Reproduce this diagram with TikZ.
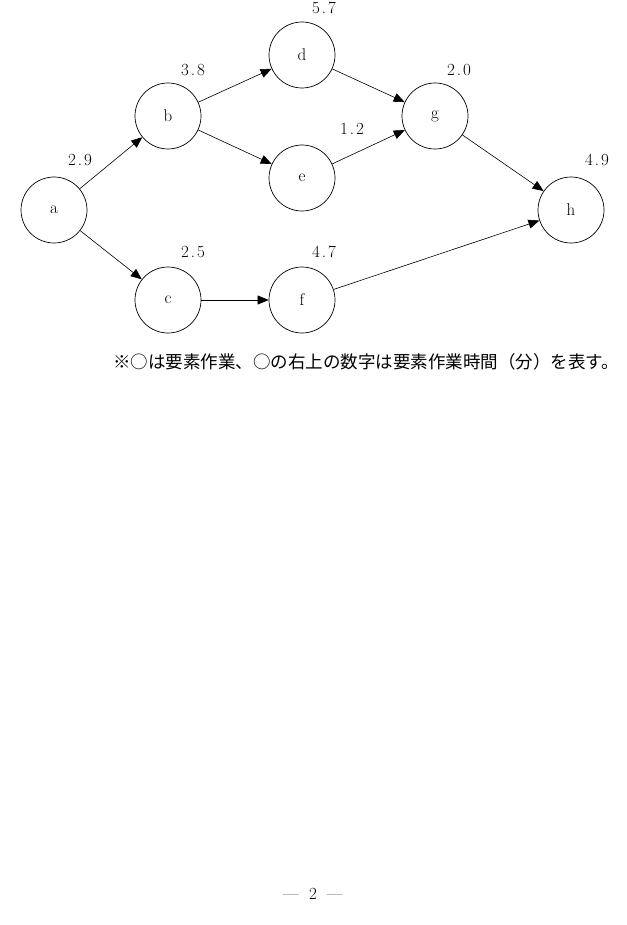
\documentclass[tikz,border=0pt]{standalone}
\usepackage{fontspec}
\newfontfamily\cjk{Noto Sans CJK JP}
\usetikzlibrary{arrows.meta}
\newcommand{\nm}[3]{#1\kern2pt#2\kern2pt#3}
\begin{document}
\begin{tikzpicture}[x=1pt,y=-1pt,
  task/.style={circle,draw,line width=0.7pt,minimum size=66pt,inner sep=0pt,font=\fontsize{17}{19}\selectfont},
  lab/.style={font=\fontsize{17}{19}\selectfont},
  arr/.style={-{Triangle[length=11pt,width=9pt]},line width=0.6pt}]
\useasboundingbox (0,0) rectangle (626,925);
\node[task] (a) at (54,210) {a};
\node[task] (b) at (168,116) {b};
\node[task] (c) at (168,300) {c};
\node[task] (d) at (302,55) {d};
\node[task] (e) at (302,178) {e};
\node[task] (f) at (302,300) {f};
\node[task] (g) at (435,116) {g};
\node[task] (h) at (571,210) {h};
\node[lab] (la) at (80,160) {\nm2.9};
\node[lab] (lb) at (193,70) {\nm3.8};
\node[lab] (ld) at (324,8) {\nm5.7};
\node[lab] (lg) at (459,70) {\nm2.0};
\node[lab] (le) at (352,129) {\nm1.2};
\node[lab] (lh) at (597,160) {\nm4.9};
\node[lab] (lc) at (193,252) {\nm2.5};
\node[lab] (lf) at (324,252) {\nm4.7};
\draw[arr] (a) -- (b);
\draw[arr] (a) -- (c);
\draw[arr] (b) -- (d);
\draw[arr] (b) -- (e);
\draw[arr] (c) -- (f);
\draw[arr] (d) -- (g);
\draw[arr] (e) -- (g);
\draw[arr] (g) -- (h);
\draw[arr] (f) -- (h);
\node[font=\cjk\fontsize{17.5}{19}\selectfont] (cap) at (366,362) {※○は要素作業、○の右上の数字は要素作業時間（分）を表す。};
\node[lab] (pg) at (313,894) {—\ \ 2\ \ —};
\end{tikzpicture}
\end{document}
